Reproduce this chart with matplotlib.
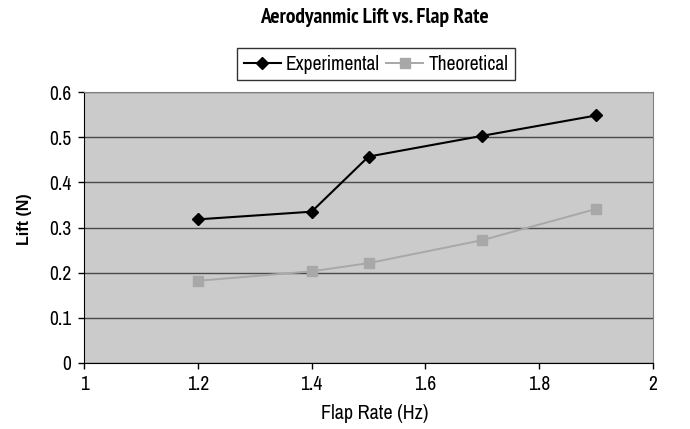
import matplotlib
matplotlib.use("Agg")
import matplotlib.pyplot as plt

flap_rate = [1.2, 1.4, 1.5, 1.7, 1.9]
experimental = [0.318, 0.335, 0.457, 0.503, 0.548]
theoretical = [0.182, 0.203, 0.221, 0.272, 0.341]
x_ticks = [1, 1.2, 1.4, 1.6, 1.8, 2]
y_ticks = [0, 0.1, 0.2, 0.3, 0.4, 0.5, 0.6]
x_tick_labels = ['1', '1.2', '1.4', '1.6', '1.8', '2']
y_tick_labels = ['0', '0.1', '0.2', '0.3', '0.4', '0.5', '0.6']

narrow = ['Archivo Narrow', 'DejaVu Sans']
plt.rcParams['font.family'] = narrow

W, H = 690, 429
fig = plt.figure(figsize=(6.9, 4.29), dpi=100)
ax = fig.add_axes([84/W, 1-363/H, (653-84)/W, (363-92)/H])
ax.set_facecolor('#cbcbcb')
ax.set_xlim(1, 2)
ax.set_ylim(0, 0.6)
ax.set_xticks(x_ticks)
ax.set_yticks(y_ticks)
ax.set_xticklabels(x_tick_labels)
ax.set_yticklabels(y_tick_labels)
ax.grid(axis='y', color='#4a4a4a', linewidth=1.0)
ax.set_axisbelow(True)
ax.tick_params(axis='both', direction='out', length=4, width=1, labelsize=14,
               color='black')
ax.tick_params(axis='x', pad=5)
ax.tick_params(axis='y', pad=5)
for s in ['top', 'right']:
    ax.spines[s].set_color('#808080')
for s in ['left', 'bottom']:
    ax.spines[s].set_color('black')

ax.plot(flap_rate, experimental, color='black', linewidth=1.5, marker='D',
        markersize=6, label='Experimental', zorder=3)
ax.plot(flap_rate, theoretical, color='#a8a8a8', linewidth=1.4, marker='s',
        markersize=6.5, label='Theoretical', zorder=3)

fig.text(375/W, 1-419/H, 'Flap Rate (Hz)', ha='center', va='baseline', fontsize=14.5)
fig.text(24/W, 1-219/H, 'Lift (N)', ha='center', va='center', rotation=90,
         fontsize=11.5, fontweight='bold', family=['Liberation Sans', 'DejaVu Sans'])

fig.text(374/W, 1-23/H, 'Aerodyanmic Lift vs. Flap Rate', ha='center', va='baseline',
         fontsize=15.5, fontweight='bold', family=['PT Sans Narrow', 'DejaVu Sans'])

leg = fig.legend(loc='center', bbox_to_anchor=(376/W, 1-64/H), ncol=2, frameon=True,
                 fancybox=False, edgecolor='black', fontsize=14, handlelength=1.9,
                 columnspacing=0.35, handletextpad=0.25, borderpad=0.35,
                 borderaxespad=0)
leg.get_frame().set_linewidth(1.0)

fig.savefig('out.png', dpi=100, facecolor='white')
